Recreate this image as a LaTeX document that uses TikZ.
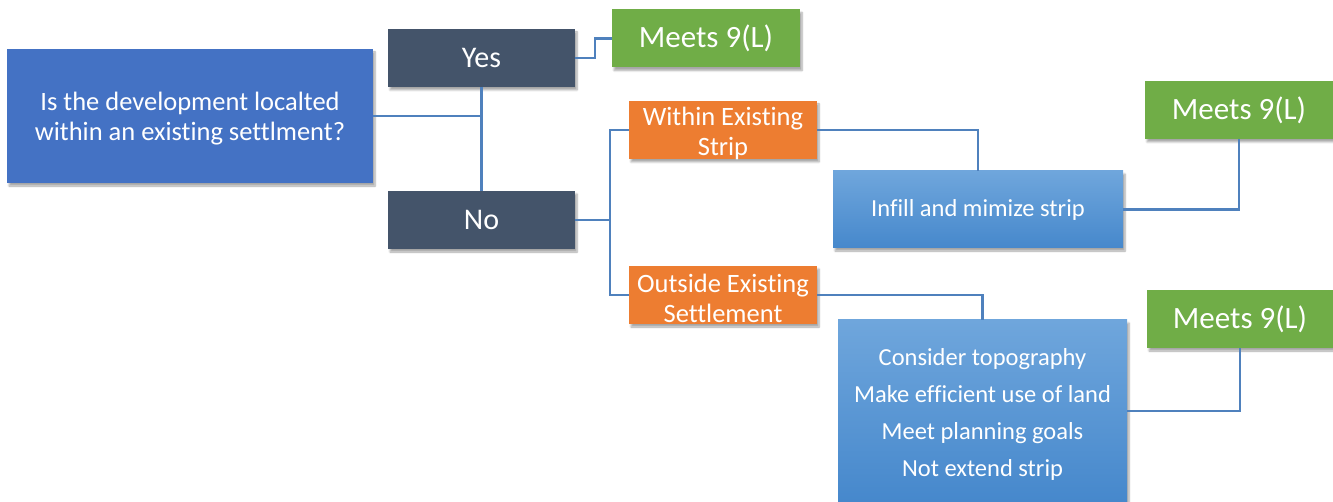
\documentclass[tikz,border=0pt]{standalone}
\usepackage{fontspec}
\setmainfont[Ligatures=NoCommon]{Carlito}
\usetikzlibrary{shadows.blur}
\definecolor{qblue}{HTML}{4472C4}
\definecolor{slate}{HTML}{44546A}
\definecolor{lgreen}{HTML}{70AD47}
\definecolor{orng}{HTML}{ED7D31}
\definecolor{gtop}{HTML}{6FA6DC}
\definecolor{gbot}{HTML}{4688CC}
\definecolor{conncol}{HTML}{4F81BD}
\newcommand{\lowertext}[2]{\raisebox{-3pt}[\height][\depth]{\parbox{#1}{\centering #2}}}
\tikzset{
  box/.style={rectangle, inner sep=0pt, text=white, align=center,
    blur shadow={shadow xshift=2pt, shadow yshift=-3pt, shadow blur steps=6, shadow opacity=35}},
  qbox/.style={box, fill=qblue, font=\fontsize{26.5}{30}\selectfont},
  ynbox/.style={box, fill=slate, font=\fontsize{30}{34}\selectfont, minimum width=187pt, minimum height=58pt},
  meetbox/.style={box, fill=lgreen, font=\fontsize{31}{35}\selectfont, minimum width=188pt, minimum height=58pt},
  optbox/.style={box, fill=orng, font=\fontsize{26.5}{30}\selectfont, minimum width=188pt, minimum height=58pt},
  gradbox/.style={box, top color=gtop, bottom color=gbot, font=\fontsize{24.5}{37}\selectfont},
  conn/.style={draw=conncol, line width=2.4pt}
}
\begin{document}
\begin{tikzpicture}[x=1pt,y=-1pt]
\useasboundingbox (0,0) rectangle (1333,502);
\node[qbox, minimum width=366pt, minimum height=134pt] (q) at (190,116) {\lowertext{366pt}{Is the development localted\\within an existing settlment?}};
\node[ynbox] (yes) at (481.5,58) {Yes};
\node[ynbox] (no) at (481.5,220) {No};
\node[meetbox] (m1) at (706,38.5) {Meets 9(L)};
\node[optbox] (within) at (723,130) {\lowertext{188pt}{Within Existing\\Strip}};
\node[optbox] (outside) at (723,295) {\lowertext{188pt}{Outside Existing\\Settlement}};
\node[gradbox, minimum width=290pt, minimum height=77pt] (infill) at (978,209.5) {Infill and mimize strip};
\node[meetbox] (m2) at (1239,110) {Meets 9(L)};
\node[meetbox, minimum width=186pt] (m3) at (1240,319) {Meets 9(L)};
\node[gradbox, minimum width=289pt, minimum height=182pt] (bot) at (982.5,411) {\lowertext{289pt}{Consider topography\\Make efficient use of land\\Meet planning goals\\Not extend strip}};
\coordinate (nj) at (610,220);
\draw[conn] (q.east) -- (q.east -| yes.south);
\draw[conn] (yes.south) -- (no.north);
\draw[conn] (yes.east) -- ++(20,0) |- (m1.west);
\draw[conn] (no.east) -- (nj);
\draw[conn] (nj) |- (within.west);
\draw[conn] (nj) |- (outside.west);
\draw[conn] (within.east) -| (infill.north);
\draw[conn] (infill.east) -| (m2.south);
\draw[conn] (outside.east) -| (bot.north);
\draw[conn] (bot.east) -| (m3.south);
\end{tikzpicture}
\end{document}
